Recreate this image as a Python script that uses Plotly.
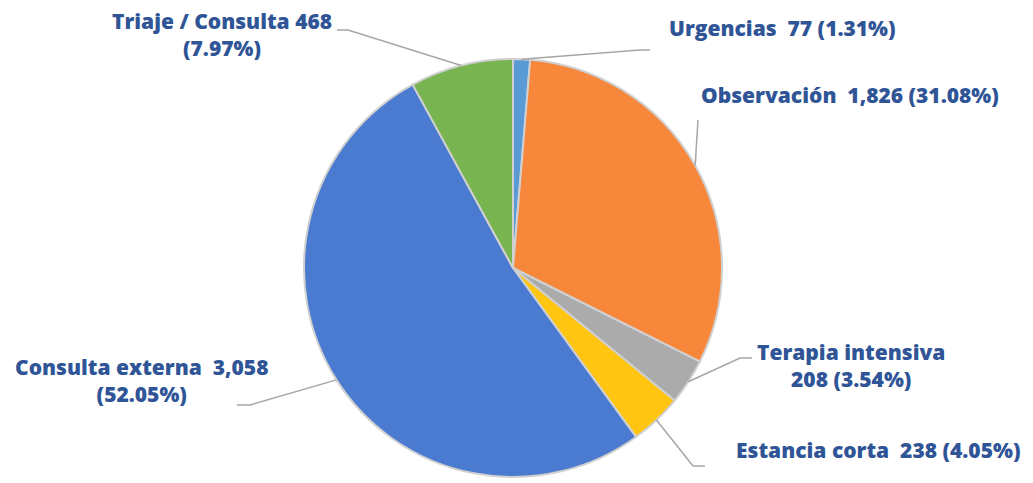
import math
import plotly.graph_objects as go

# datos del gráfico (orden horario desde las 12)
categorias = ["Urgencias", "Observación", "Terapia intensiva",
              "Estancia corta", "Consulta externa", "Triaje / Consulta"]
valores = [77, 1826, 208, 238, 3058, 468]
colores = ["#5B9BD5", "#F7883B", "#ABABAB", "#FFC511", "#4A7BD0", "#78B450"]

# separadores de la etiqueta: nombre|valor y valor|porcentaje
sep_nombre = ["\u00a0 ", "\u00a0 ", "<br>", "\u00a0 ", "\u00a0 ", " "]
sep_pct = [" ", " ", " ", " ", "<br>", "<br>"]

W, H = 1033, 483
OFF = 8  # margen del <body> de la página
CX, CY, R = 513, 268, 209  # centro y radio del pastel en píxeles de pantalla

# posición del texto (px) y trazo de la guía cerca de la etiqueta (px)
pos_etiqueta = [(782, 28), (850, 95), (851, 365), (878, 450), (141, 380), (222, 35)]
guia = [
    [(640, 50), (650, 50)],
    [(698, 120)],
    [(740, 358), (752, 358)],
    [(693, 466), (705, 466)],
    [(250, 405), (237, 405)],
    [(348, 30), (337, 30)],
]

total = sum(valores)


def px(x, y):
    return (x - OFF) / W, 1 - (y - OFF) / H


x0, y1 = px(CX - R, CY - R)
x1, y0 = px(CX + R, CY + R)

fig = go.Figure(
    go.Pie(
        labels=categorias,
        values=valores,
        sort=False,
        direction="clockwise",
        rotation=0,
        textinfo="none",
        hoverinfo="label+value+percent",
        marker=dict(colors=colores, line=dict(color="#D0D0D0", width=2)),
        domain=dict(x=[x0, x1], y=[y0, y1]),
        showlegend=False,
    )
)

anotaciones = []
formas = []
acum = 0
for i, (cat, v) in enumerate(zip(categorias, valores)):
    pct = v / total * 100
    texto = f"{cat}{sep_nombre[i]}{v:,}{sep_pct[i]}({pct:.2f}%)"
    x, y = px(*pos_etiqueta[i])
    anotaciones.append(dict(
        x=x, y=y, xref="paper", yref="paper", text=texto, showarrow=False,
        xanchor="center", yanchor="middle", align="center",
        font=dict(family="Open Sans", size=21, color="#2F5597", weight=800),
    ))
    # punto del borde en el ángulo medio de la porción
    ang = math.radians((acum + v / 2) / total * 360)
    acum += v
    ex, ey = CX + R * math.sin(ang), CY - R * math.cos(ang)
    puntos = [(ex, ey)] + guia[i]
    path = "M " + " L ".join(f"{px(a, b)[0]},{px(a, b)[1]}" for a, b in puntos)
    formas.append(dict(type="path", path=path, xref="paper", yref="paper",
                       line=dict(color="#A6A6A6", width=1.5)))

fig.update_layout(
    width=W, height=H,
    margin=dict(l=0, r=0, t=0, b=0),
    paper_bgcolor="white",
    plot_bgcolor="white",
    annotations=anotaciones,
    shapes=formas,
)

fig.write_html("out.html")
